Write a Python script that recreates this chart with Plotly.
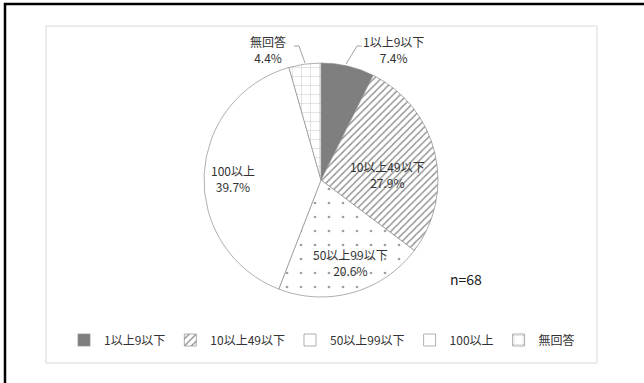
import plotly.graph_objects as go

categories = ["1以上9以下", "10以上49以下", "50以上99以下", "100以上", "無回答"]
counts = [5, 19, 14, 27, 3]
n_total = 68
pct_labels = ["7.4%", "27.9%", "20.6%", "39.7%", "4.4%"]

W, H = 644, 383
FONT = "Noto Sans CJK JP, Noto Sans, sans-serif"
TXT = "#333333"

def px(x):
    return x / W

def py(y):
    return 1 - y / H

cx, cy, r = 321, 180, 117

fig = go.Figure()
fig.add_trace(go.Pie(
    labels=categories,
    values=counts,
    sort=False,
    direction="clockwise",
    rotation=0,
    textinfo="none",
    hoverinfo="label+percent",
    domain=dict(x=[px(cx - r), px(cx + r)], y=[py(cy + r), py(cy - r)]),
    marker=dict(
        colors=["#7f7f7f", "white", "white", "white", "white"],
        line=dict(color="#8c8c8c", width=0.7),
        pattern=dict(
            shape=["", "/", ".", "", "+"],
            fgcolor=["#7f7f7f", "#8c8c8c", "#a0a0a0", "white", "#b5b5b5"],
            bgcolor=["#7f7f7f", "white", "white", "white", "white"],
            size=[8, 5, 14, 8, 9],
            solidity=[0.3, 0.28, 0.03, 0.1, 0.08],
            fillmode="replace",
        ),
    ),
    showlegend=True,
))

# data labels (text positions)
label_pos = [(393, 50), (387, 174), (350, 262), (233, 178), (268, 50)]
for cat, pct, (lx, ly) in zip(categories, pct_labels, label_pos):
    fig.add_annotation(
        x=px(lx), y=py(ly), xref="paper", yref="paper",
        xanchor="center", yanchor="middle",
        text=f"{cat}<br>{pct}", showarrow=False, align="center",
        font=dict(family=FONT, size=12, color=TXT),
    )

fig.add_annotation(x=px(466), y=py(279), xref="paper", yref="paper",
                   xanchor="center", yanchor="middle",
                   text=f"n={n_total}", showarrow=False,
                   font=dict(family=FONT, size=14, color="#202020"))

shapes = [
    # outer black frame (left and top edges visible)
    dict(type="path", xref="paper", yref="paper",
         path=f"M {px(5)} {py(383)} L {px(5)} {py(4)} L {px(644)} {py(4)}",
         line=dict(color="black", width=2.5)),
    # inner chart-area frame
    dict(type="rect", xref="paper", yref="paper", x0=px(46), x1=px(597), y0=py(363), y1=py(26),
         line=dict(color="#d9d9d9", width=1), fillcolor="rgba(0,0,0,0)"),
    # leader lines
    dict(type="path", xref="paper", yref="paper",
         path=f"M {px(294)} {py(46)} L {px(299)} {py(46)} L {px(305)} {py(63)}",
         line=dict(color="#8c8c8c", width=0.8)),
    dict(type="path", xref="paper", yref="paper",
         path=f"M {px(362)} {py(46)} L {px(357)} {py(46)} L {px(346)} {py(64)}",
         line=dict(color="#8c8c8c", width=0.8)),
]

fig.update_layout(
    width=W, height=H,
    margin=dict(l=0, r=0, t=0, b=0),
    paper_bgcolor="white",
    plot_bgcolor="white",
    shapes=shapes,
    legend=dict(
        orientation="h", x=0.5, xanchor="center", y=py(340), yanchor="middle",
        font=dict(family=FONT, size=12, color=TXT),
        itemwidth=30, tracegroupgap=0,
    ),
)

fig.write_html(
    "out.html",
    config={"displayModeBar": False},
    post_script="document.body.style.margin='0';document.body.style.overflow='hidden';",
)
